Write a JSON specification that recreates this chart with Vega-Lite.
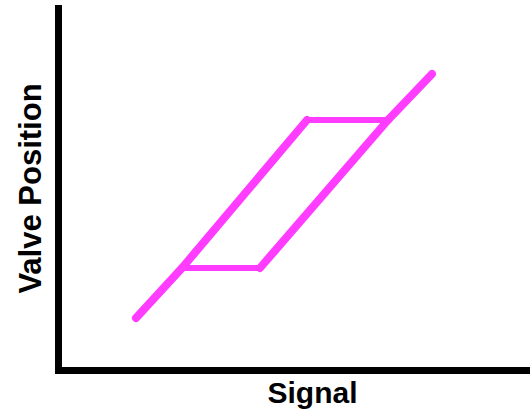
{
  "$schema": "https://vega.github.io/schema/vega-lite/v6.json",
  "autosize": {"type": "none"},
  "padding": {"left": 58, "top": 8, "right": 0, "bottom": 45},
  "width": 472,
  "height": 362,
  "config": {"view": {"stroke": null}},
  "data": {
    "values": [
      {"seg": "A", "kind": "diagonal", "step": 1, "signal": 78, "position": 52},
      {"seg": "A", "kind": "diagonal", "step": 2, "signal": 124, "position": 102},
      {"seg": "B", "kind": "diagonal", "step": 1, "signal": 124, "position": 102},
      {"seg": "B", "kind": "diagonal", "step": 2, "signal": 249, "position": 250},
      {"seg": "D", "kind": "diagonal", "step": 1, "signal": 202, "position": 102},
      {"seg": "D", "kind": "diagonal", "step": 2, "signal": 330, "position": 250},
      {"seg": "F", "kind": "diagonal", "step": 1, "signal": 330, "position": 250},
      {"seg": "F", "kind": "diagonal", "step": 2, "signal": 374, "position": 296},
      {"seg": "C", "kind": "horizontal", "step": 1, "signal": 249, "position": 250},
      {"seg": "C", "kind": "horizontal", "step": 2, "signal": 330, "position": 250},
      {"seg": "E", "kind": "horizontal", "step": 1, "signal": 124, "position": 102},
      {"seg": "E", "kind": "horizontal", "step": 2, "signal": 202, "position": 102}
    ]
  },
  "encoding": {
    "x": {
      "field": "signal", "type": "quantitative",
      "scale": {"domain": [0, 472], "nice": false, "zero": false},
      "axis": {
        "domain": true, "domainColor": "#000000", "domainWidth": 7, "domainCap": "square",
        "ticks": false, "labels": false, "grid": false,
        "title": "Signal", "titleFont": "Liberation Sans", "titleFontSize": 30, "titleFontWeight": "bold",
        "titleColor": "#000000", "titleX": 254, "titleY": 32, "titleBaseline": "alphabetic", "titleAlign": "center"
      }
    },
    "y": {
      "field": "position", "type": "quantitative",
      "scale": {"domain": [0, 362], "nice": false, "zero": false},
      "axis": {
        "domain": true, "domainColor": "#000000", "domainWidth": 7, "domainCap": "square",
        "ticks": false, "labels": false, "grid": false,
        "title": "Valve Position", "titleFont": "Liberation Sans", "titleFontSize": 31, "titleFontWeight": "bold",
        "titleColor": "#000000", "titleX": -18, "titleY": 180, "titleAngle": -90,
        "titleBaseline": "alphabetic", "titleAlign": "center"
      }
    },
    "detail": {"field": "seg"},
    "order": {"field": "step"}
  },
  "layer": [
    {
      "transform": [{"filter": "datum.kind === 'horizontal'"}],
      "mark": {"type": "line", "color": "#ff3cff", "strokeWidth": 6, "strokeCap": "butt"}
    },
    {
      "transform": [{"filter": "datum.kind === 'diagonal'"}],
      "mark": {"type": "line", "color": "#ff3cff", "strokeWidth": 8, "strokeCap": "round"}
    }
  ]
}
